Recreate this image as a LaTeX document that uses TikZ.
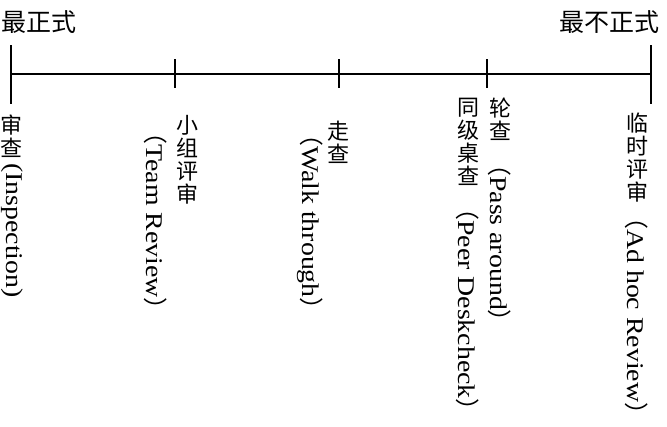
\documentclass[tikz,border=0pt]{standalone}
\usepackage{fontspec}
\setmainfont{Liberation Serif}
\newfontfamily\cjk{Noto Sans CJK SC}
\newfontfamily\wide[FakeStretch=1.16]{Liberation Serif}
\begin{document}
\begin{tikzpicture}[x=1pt,y=-1pt,
  axis/.style={line width=2.7pt},
  endlabel/.style={inner sep=0pt,font=\cjk\fontsize{25}{25}\selectfont},
  hanzi/.style={anchor=north,inner sep=0pt,align=center,font=\cjk\fontsize{22}{23}\selectfont},
  latin/.style={anchor=west,rotate=-90,inner sep=0pt,font=\wide\fontsize{24}{24}\selectfont}]
\useasboundingbox (0,0) rectangle (667,426);
\coordinate (start) at (11,74);
\coordinate (end) at (651,74);
\draw[axis] (start) -- (end);
\draw[axis] (11,45) -- (11,104);
\draw[axis] (651,45) -- (651,104);
\foreach \x in {175,339,487} {
  \draw[axis] (\x,59) -- (\x,88);
}
\node[endlabel,anchor=base west] (most) at (1,31) {最正式};
\node[endlabel,anchor=base east] (least) at (660,31) {最不正式};
% labels below the scale
\node[hanzi] (insp) at (12,115) {审\\查};
\node[latin] (insp-en) at (12,163) {(Inspection)};
\node[hanzi] (team) at (187,115) {小\\组\\评\\审};
\node[latin] (team-en) at (156,120) {{\cjk（}Team Review{\cjk）}};
\node[hanzi] (walk) at (338,121) {走\\查};
\node[latin] (walk-en) at (310,122) {{\cjk（}Walk through{\cjk）}};
\node[hanzi] (pass) at (500,98) {轮\\查};
\node[latin] (pass-en) at (500,152) {{\cjk（}Pass around{\cjk）}};
\node[hanzi] (peer) at (468,98) {同\\级\\桌\\查};
\node[latin] (peer-en) at (468,196) {{\cjk（}Peer Deskcheck{\cjk）}};
\node[hanzi] (adhoc) at (637,113) {临\\时\\评\\审};
\node[latin] (adhoc-en) at (637,205) {{\cjk（}Ad hoc Review{\cjk）}};
\end{tikzpicture}
\end{document}
